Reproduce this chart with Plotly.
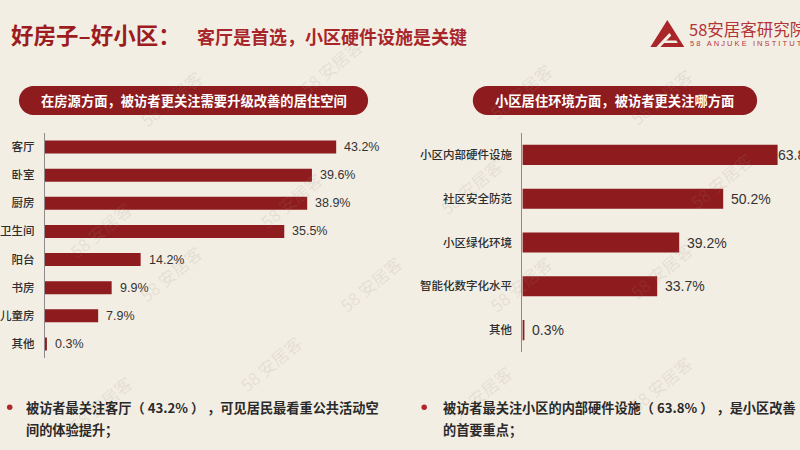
import plotly.graph_objects as go

W, H = 800, 450
def px(x): return x / W
def py(y): return 1 - y / H

# ---------------- data ----------------
left_cats = ["客厅", "卧室", "厨房", "卫生间", "阳台", "书房", "儿童房", "其他"]
left_vals = [43.2, 39.6, 38.9, 35.5, 14.2, 9.9, 7.9, 0.3]
right_cats = ["小区内部硬件设施", "社区安全防范", "小区绿化环境", "智能化数字化水平", "其他"]
right_vals = [63.8, 50.2, 39.2, 33.7, 0.3]

NB = "\u00a0"
title_main = "好房子–好小区："
title_sub = "客厅是首选，小区硬件设施是关键"
left_header = "在房源方面，被访者更关注需要升级改善的居住空间"
right_header = "小区居住环境方面，被访者更关注哪方面"
left_note = [f"被访者最关注客厅（{NB}43.2%{NB}）{NB}，可见居民最看重公共活动空", "间的体验提升；"]
right_note = [f"被访者最关注小区的内部硬件设施（{NB}63.8%{NB}）{NB}，是小区改善", "的首要重点；"]

RED = "#8e1b1e"
TITLE_RED = "#9c1c20"
CJK = "Noto Sans CJK SC"
NUM = "Liberation Sans, Arial, sans-serif"
BG = "#f3eee4"

fig = go.Figure()
fig.add_trace(go.Bar(x=left_vals, y=left_cats, orientation="h", marker_color=RED,
                     marker_line_width=0, xaxis="x", yaxis="y", hoverinfo="skip"))
fig.add_trace(go.Bar(x=right_vals, y=right_cats, orientation="h", marker_color=RED,
                     marker_line_width=0, xaxis="x2", yaxis="y2", hoverinfo="skip"))

# left axis: x=43px -> 0 ; 6.76 px per %
lx0, lx1 = 43, 400
l_scale = 6.76
# right axis: x=521.7px -> 0 ; 4.01 px per %
rx0, rx1 = 521.7, 800
r_scale = 4.01

axis_y_common = dict(showline=True, linecolor="#8c8c8c", linewidth=1, ticks="",
                     showgrid=False, zeroline=False, autorange="reversed",
                     ticklabelstandoff=7, fixedrange=True)

fig.update_layout(
    width=W, height=H, margin=dict(l=0, r=0, t=0, b=0),
    paper_bgcolor=BG, plot_bgcolor="rgba(0,0,0,0)",
    showlegend=False, bargap=0.54,
    xaxis=dict(domain=[px(lx0), px(lx1)], range=[0, (lx1 - lx0) / l_scale], visible=False, fixedrange=True),
    yaxis=dict(domain=[py(358), py(133)],
               tickfont=dict(family=CJK, size=11.5, color="#2e2e2e", weight=500), **axis_y_common),
    xaxis2=dict(domain=[px(rx0), px(rx1)], range=[0, (rx1 - rx0) / r_scale], visible=False,
                anchor="y2", fixedrange=True),
    yaxis2=dict(domain=[py(352), py(133)], anchor="x2",
                tickfont=dict(family=CJK, size=11.5, color="#2e2e2e", weight=500), **axis_y_common),
)

ann = []
# watermarks
wm = [(130, 62), (330, 30), (520, 55), (700, 60), (250, 200), (470, 150), (760, 180),
      (130, 310), (370, 320), (560, 320), (700, 270), (60, 230), (230, 400), (480, 430),
      (700, 420), (60, 440)]
for (x, y) in wm:
    ann.append(dict(x=px(x), y=py(y), xref="paper", yref="paper", text="58 安居客",
                    showarrow=False, textangle=-40,
                    font=dict(family=CJK, size=17, color="rgba(150,140,125,0.16)")))

# value labels
for c, v in zip(left_cats, left_vals):
    ann.append(dict(x=v, y=c, xref="x", yref="y", text=f"{v}%", showarrow=False,
                    xanchor="left", xshift=6, font=dict(family=NUM, size=12.5, color="#333")))
for c, v in zip(right_cats, right_vals):
    ann.append(dict(x=v, y=c, xref="x2", yref="y2", text=f"{v}%", showarrow=False,
                    xanchor="left", xshift=(-2 if v == max(right_vals) else 6),
                    font=dict(family=NUM, size=14, color="#333")))

# title
ann.append(dict(x=px(7), y=py(34), xref="paper", yref="paper", xanchor="left", yanchor="middle",
                text=f"<b>{title_main}</b>", showarrow=False,
                font=dict(family=CJK, size=22.5, color=TITLE_RED)))
ann.append(dict(x=px(193), y=py(36), xref="paper", yref="paper", xanchor="left", yanchor="middle",
                text=f"<b>{title_sub}</b>", showarrow=False,
                font=dict(family=CJK, size=18, color="#a8262a")))

# logo texts
ann.append(dict(x=px(687), y=py(29), xref="paper", yref="paper", xanchor="left", yanchor="middle",
                text="58安居客研究院", showarrow=False,
                font=dict(family=CJK, size=16.5, color="#b3353a")))
spaced = (NB * 3).join(NB.join(list(w)) for w in ["58", "ANJUKE", "INSTITUTE"])
ann.append(dict(x=px(688), y=py(44), xref="paper", yref="paper", xanchor="left", yanchor="middle",
                text=spaced, showarrow=False,
                font=dict(family=NUM, size=7.5, color="#b3353a")))

# headers
ann.append(dict(x=px(192), y=py(100.5), xref="paper", yref="paper", xanchor="center", yanchor="middle",
                text=f"<b>{left_header}</b>", showarrow=False,
                font=dict(family=CJK, size=13.3, color="white")))
ann.append(dict(x=px(614), y=py(100.5), xref="paper", yref="paper", xanchor="center", yanchor="middle",
                text=f"<b>{right_header}</b>", showarrow=False,
                font=dict(family=CJK, size=13.3, color="white")))

# notes
for (x0, lines) in ((22, left_note), (440, right_note)):
    for i, line in enumerate(lines):
        ann.append(dict(x=px(x0), y=py(407 + 22 * i), xref="paper", yref="paper",
                        xanchor="left", yanchor="middle", text=f"<b>{line}</b>", showarrow=False,
                        font=dict(family=CJK, size=13.2, color="#2a2a2a")))

fig.update_layout(annotations=ann)

# shapes
def pill(x0, x1, y0, y1):
    r = (y1 - y0) / 2
    k = 0.5523 * r
    pts = [
        ("M", [(x0 + r, y0)]),
        ("L", [(x1 - r, y0)]),
        ("C", [(x1 - r + k, y0), (x1, y0 + r - k), (x1, y0 + r)]),
        ("C", [(x1, y0 + r + k), (x1 - r + k, y1), (x1 - r, y1)]),
        ("L", [(x0 + r, y1)]),
        ("C", [(x0 + r - k, y1), (x0, y0 + r + k), (x0, y0 + r)]),
        ("C", [(x0, y0 + r - k), (x0 + r - k, y0), (x0 + r, y0)]),
    ]
    s = ""
    for cmd, ps in pts:
        s += cmd + " " + " ".join(f"{px(a):.5f},{py(b):.5f}" for a, b in ps) + " "
    return s + "Z"

def poly(points):
    return "M " + " L ".join(f"{px(a):.5f},{py(b):.5f}" for a, b in points) + " Z"

shapes = [
    dict(type="path", xref="paper", yref="paper", path=pill(17, 367, 86, 115),
         fillcolor=RED, line=dict(width=0)),
    dict(type="path", xref="paper", yref="paper", path=pill(472, 757, 86, 115),
         fillcolor=RED, line=dict(width=0)),
    # logo icon
    dict(type="path", xref="paper", yref="paper", path=poly([(650, 47), (667, 20), (684, 47)]),
         fillcolor="#a8262a", line=dict(width=0)),
    dict(type="path", xref="paper", yref="paper",
         path=poly([(656, 47), (660, 47), (671, 35.5), (669, 33)]),
         fillcolor=BG, line=dict(width=0)),
    dict(type="path", xref="paper", yref="paper",
         path=poly([(664, 40.5), (676, 40.5), (677.5, 43), (662, 43)]),
         fillcolor=BG, line=dict(width=0)),
    # bullets
    dict(type="circle", xref="paper", yref="paper", x0=px(5), x1=px(10.5), y0=py(404.5), y1=py(410),
         fillcolor="#b0262a", line=dict(width=0)),
    dict(type="circle", xref="paper", yref="paper", x0=px(420.5), x1=px(426), y0=py(404.5), y1=py(410),
         fillcolor="#b0262a", line=dict(width=0)),
]
fig.update_layout(shapes=shapes)

fig.write_html("out.html", config={"displayModeBar": False},
               post_script="document.body.style.margin='0';document.body.style.background='%s';" % BG)
